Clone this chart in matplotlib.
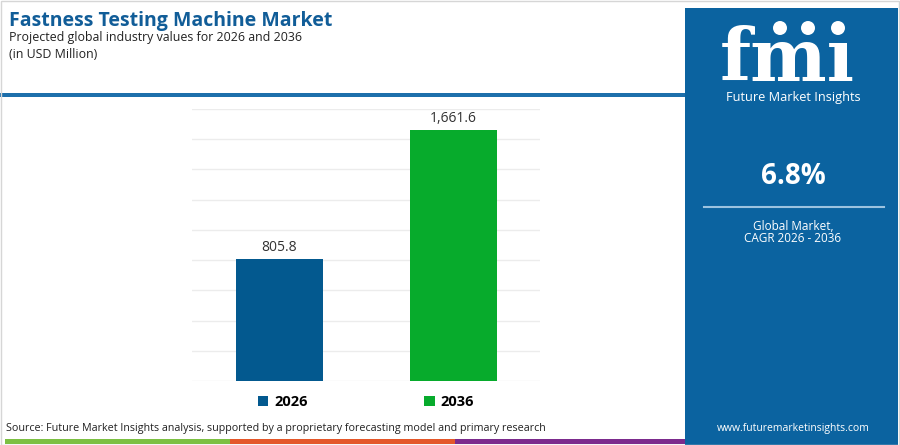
import matplotlib.pyplot as plt
from matplotlib.patches import Rectangle, Ellipse
from matplotlib.lines import Line2D

# data
years = ['2026', '2036']
values = [805.8, 1661.6]
value_labels = ['805.8', '1,661.6']
bar_colors = ['#03598f', '#07ab2c']
cagr = '6.8%'

title = 'Fastness Testing Machine Market'
subtitle = 'Projected global industry values for 2026 and 2036'
unit = '(in USD Million)'
source = 'Source: Future Market Insights analysis, supported by a proprietary forecasting model and primary research'

W, H = 900, 445
fig = plt.figure(figsize=(W / 100, H / 100), dpi=100)
plt.rcParams['font.family'] = ['Open Sans', 'DejaVu Sans']


def fx(px):
    return px / W


def fy(py):
    return 1 - py / H


# header texts
fig.text(fx(9), fy(21), title, fontsize=14, fontweight='bold', color='#115d98', va='center')
fig.text(fx(9), fy(38), subtitle, fontsize=8.9, color='#222222', va='center')
fig.text(fx(9), fy(55), unit, fontsize=8.9, color='#222222', va='center')

# blue rule under header
fig.add_artist(Rectangle((0, fy(97)), fx(685), fy(93) - fy(97), transform=fig.transFigure,
                         color='#1d6fab', lw=0))

# bottom colour stripe
for x0, x1, c in [(5, 230, '#7cc043'), (230, 455, '#e4572a'), (455, 685, '#7c2b8d')]:
    fig.add_artist(Rectangle((fx(x0), fy(444)), fx(x1 - x0), fy(439) - fy(444),
                             transform=fig.transFigure, color=c, lw=0))

fig.text(fx(6), fy(429), source, fontsize=7.75, color='#222222', va='center')

# right panel
panel = '#0b63a0'
fig.add_artist(Rectangle((fx(685), 0), fx(W - 685 - 2), fy(8), transform=fig.transFigure,
                         color=panel, lw=0))
cx = fx(793)
fig.text(fx(787), fy(81), 'fm\u0131', fontsize=52, fontweight='bold', color='white',
         ha='center', va='baseline', family='DejaVu Serif')
# stripes across logo
for py in range(26, 84, 5):
    fig.add_artist(Line2D([fx(712), fx(866)], [fy(py), fy(py)], transform=fig.transFigure,
                          color=panel, lw=1.1))
for px in (780, 808, 838):
    fig.add_artist(Ellipse((fx(px), fy(28)), fx(14), 14 / H, transform=fig.transFigure,
                           color='white', lw=0, zorder=4))
fig.text(cx, fy(97), 'Future Market Insights', fontsize=9.2, color='white', ha='center', va='center')
fig.text(cx, fy(177), cagr, fontsize=20, fontweight='bold', color='white', ha='center', va='center')
fig.add_artist(Line2D([fx(704), fx(884)], [fy(207), fy(207)], transform=fig.transFigure,
                      color='#9cc3e0', lw=1.5))
fig.text(cx, fy(226), 'Global Market,', fontsize=8.5, color='white', ha='center', va='center')
fig.text(cx, fy(239), 'CAGR 2026 - 2036', fontsize=8.5, color='white', ha='center', va='center')
fig.text(cx, fy(428), 'www.futuremarketinsights.com', fontsize=7.5, color='white', ha='center', va='center')

# light frame
fig.add_artist(Rectangle((0.001, 0.001), 0.998, 0.996, transform=fig.transFigure,
                         fill=False, edgecolor='#d6d6d6', lw=1))

# chart
ax = fig.add_axes([fx(192), fy(381), fx(348), fy(109) - fy(381)])
x = range(len(years))
bars = ax.bar(x, values, width=0.5, color=bar_colors, zorder=3)
ax.set_xlim(-0.5, 1.5)
ax.set_ylim(0, 1800)
ax.set_yticks(range(0, 1801, 200))
ax.grid(axis='y', color='#ececec', lw=1, zorder=0)
ax.tick_params(left=False, bottom=False, labelleft=False, labelbottom=False)
for s in ax.spines.values():
    s.set_visible(False)

for b, lab in zip(bars, value_labels):
    ax.annotate(lab, (b.get_x() + b.get_width() / 2, b.get_height()), xytext=(0, 3),
                textcoords='offset points', ha='center', va='bottom', fontsize=10, color='#333333')

leg = ax.legend(bars, years, loc='upper center', bbox_to_anchor=(0.5, -0.005), ncol=2,
                frameon=False, handlelength=0.7, handleheight=0.7, handletextpad=0.4,
                columnspacing=8.0, prop={'weight': 'bold', 'size': 10.5})

fig.savefig('out.png', dpi=100)
